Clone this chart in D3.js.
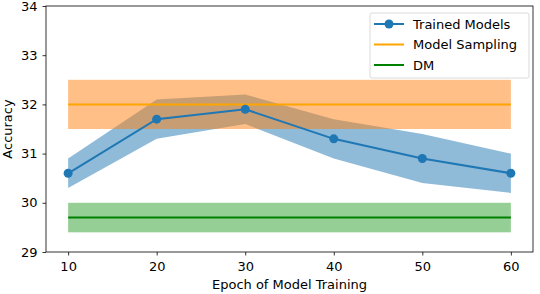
<!DOCTYPE html>
<html>
<head>
<meta charset="utf-8">
<script src="https://cdn.jsdelivr.net/npm/d3@7"></script>
<style>
  body { margin: 0; background: #fff; }
  svg text { font-family: "DejaVu Sans", sans-serif; }
</style>
</head>
<body>
<div id="chart"></div>
<script>
// data
var epochs = [10, 20, 30, 40, 50, 60];
var trained = [30.6, 31.7, 31.9, 31.3, 30.9, 30.6];
var trainedLow = [30.3, 31.3, 31.6, 30.9, 30.4, 30.2];
var trainedHigh = [30.9, 32.1, 32.2, 31.7, 31.4, 31.0];
var sampling = 32.0, samplingLow = 31.5, samplingHigh = 32.5;
var dm = 29.7, dmLow = 29.4, dmHigh = 30.0;
var xTicks = [10, 20, 30, 40, 50, 60];
var yTicks = [29, 30, 31, 32, 33, 34];
var legendNames = ["Trained Models", "Model Sampling", "DM"];

var W = 540, H = 294;
var m = {left: 46, right: 7, top: 6, bottom: 42};
var fs = 13;

var svg = d3.select("#chart").append("svg")
  .attr("width", W).attr("height", H);

var x = d3.scaleLinear().domain([7.5, 62.5]).range([m.left, W - m.right]);
var y = d3.scaleLinear().domain([29, 34]).range([H - m.bottom, m.top]);

var pts = epochs.map(function(e, i) {
  return {e: e, v: trained[i], lo: trainedLow[i], hi: trainedHigh[i]};
});

// bands first (trained band under the sampling band, like the original)
svg.append("path").datum(pts)
  .attr("d", d3.area().x(function(d) { return x(d.e); })
    .y0(function(d) { return y(d.lo); }).y1(function(d) { return y(d.hi); }))
  .attr("fill", "#1f77b4").attr("fill-opacity", 0.5);

function band(lo, hi, fill) {
  svg.append("rect")
    .attr("x", x(10)).attr("width", x(60) - x(10))
    .attr("y", y(hi)).attr("height", y(lo) - y(hi))
    .attr("fill", fill).attr("fill-opacity", 0.5);
}
band(samplingLow, samplingHigh, "#ff7f0e");
band(dmLow, dmHigh, "#2ca02c");

// horizontal reference lines
function hline(v, col) {
  svg.append("line")
    .attr("x1", x(10)).attr("x2", x(60))
    .attr("y1", y(v)).attr("y2", y(v))
    .attr("stroke", col).attr("stroke-width", 2);
}
hline(sampling, "#ffa500");
hline(dm, "#008000");

svg.append("path").datum(pts)
  .attr("d", d3.line().x(function(d) { return x(d.e); }).y(function(d) { return y(d.v); }))
  .attr("fill", "none").attr("stroke", "#1f77b4").attr("stroke-width", 2);

svg.selectAll("circle.pt").data(pts).enter().append("circle")
  .attr("class", "pt")
  .attr("cx", function(d) { return x(d.e); })
  .attr("cy", function(d) { return y(d.v); })
  .attr("r", 4.5).attr("fill", "#1f77b4");

// axes
var xAxis = svg.append("g").attr("transform", "translate(0," + (H - m.bottom) + ")")
  .call(d3.axisBottom(x).tickValues(xTicks).tickFormat(d3.format("d")).tickSize(3.5).tickPadding(6));
var yAxis = svg.append("g").attr("transform", "translate(" + m.left + ",0)")
  .call(d3.axisLeft(y).tickValues(yTicks).tickFormat(d3.format("d")).tickSize(3.5).tickPadding(5));
[xAxis, yAxis].forEach(function(a) {
  a.selectAll("text").attr("font-size", fs).attr("fill", "#000")
    .attr("font-family", "DejaVu Sans, sans-serif");
  a.selectAll("line").attr("stroke", "#000").attr("stroke-width", 0.8);
  a.select(".domain").remove();
});

// frame
svg.append("rect")
  .attr("x", m.left).attr("y", m.top)
  .attr("width", W - m.right - m.left).attr("height", H - m.bottom - m.top)
  .attr("fill", "none").attr("stroke", "#000").attr("stroke-width", 0.8);

svg.append("text")
  .attr("x", (m.left + W - m.right) / 2).attr("y", 289)
  .attr("text-anchor", "middle").attr("font-size", fs)
  .text("Epoch of Model Training");
svg.append("text")
  .attr("transform", "translate(12," + ((m.top + H - m.bottom) / 2) + ") rotate(-90)")
  .attr("text-anchor", "middle").attr("font-size", fs)
  .text("Accuracy");

// legend
var lg = svg.append("g").attr("transform", "translate(370,13)");
lg.append("rect").attr("width", 159).attr("height", 65).attr("rx", 2)
  .attr("fill", "#fff").attr("fill-opacity", 0.8)
  .attr("stroke", "#d0d0d0").attr("stroke-width", 0.8);
var lcol = ["#1f77b4", "#ffa500", "#008000"];
legendNames.forEach(function(n, i) {
  var yy = 11 + i * 20.5;
  lg.append("line").attr("x1", 4).attr("x2", 34).attr("y1", yy).attr("y2", yy)
    .attr("stroke", lcol[i]).attr("stroke-width", 2);
  if (i === 0) lg.append("circle").attr("cx", 19).attr("cy", yy).attr("r", 4.5).attr("fill", lcol[i]);
  lg.append("text").attr("x", 43).attr("y", yy).attr("dy", "0.35em")
    .attr("font-size", fs).text(n);
});
</script>
</body>
</html>
